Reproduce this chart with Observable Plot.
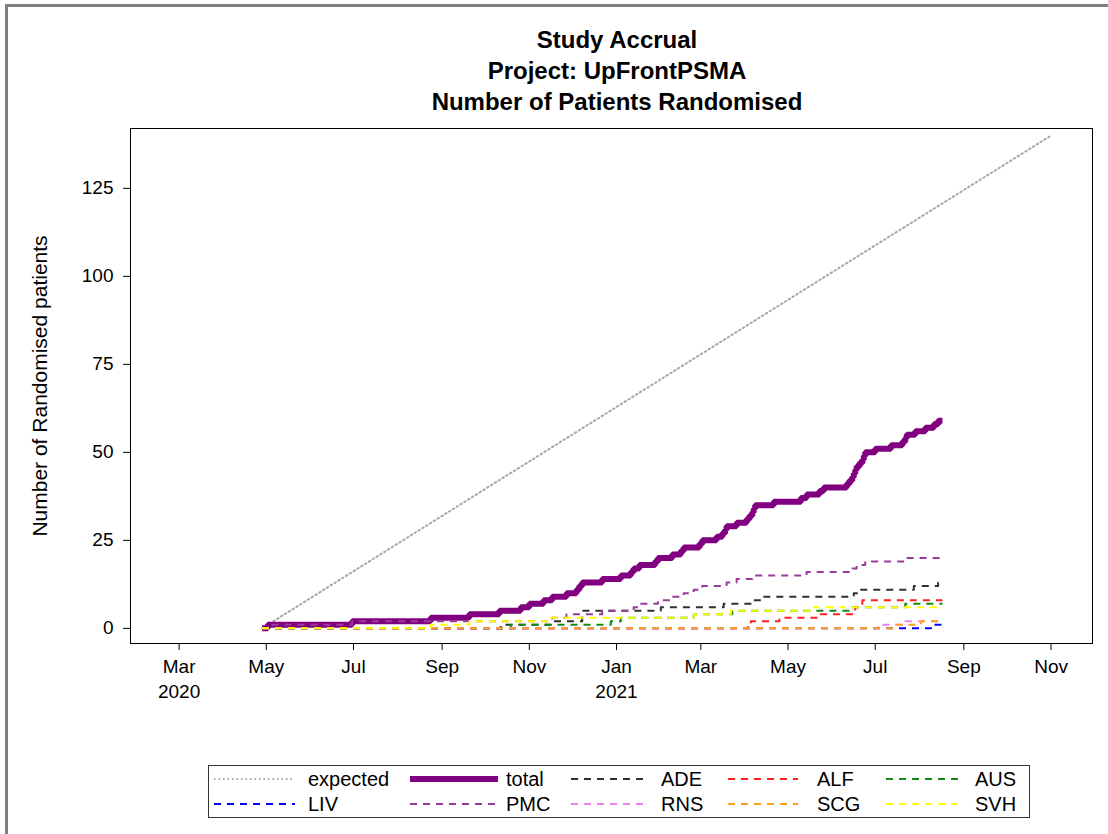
<!DOCTYPE html>
<html>
<head>
<meta charset="utf-8">
<script src="https://cdn.jsdelivr.net/npm/d3@7"></script>
<script src="https://cdn.jsdelivr.net/npm/@observablehq/plot@0.6"></script>
<style>
  html, body { margin: 0; padding: 0; background: #fff; }
  #page { position: relative; width: 1108px; height: 834px; overflow: hidden; font-family: "Liberation Sans", Arial, sans-serif; }
  #border { position: absolute; left: 5px; top: 4px; width: 1200px; height: 900px; border-top: 3px solid #808080; border-left: 3px solid #808080; }
  #titles { position: absolute; top: 24px; left: 136px; width: 962px; text-align: center; font-weight: bold; font-size: 24px; line-height: 31px; color: #000; }
  #chart { position: absolute; top: 115px; left: 0; }
  #legend { position: absolute; left: 208px; top: 765px; width: 820px; height: 51px; border: 1px solid #333; }
  .lg-label { position: absolute; font-size: 20px; line-height: 26px; white-space: nowrap; color: #000; }
</style>
</head>
<body>
<div id="page">
  <div id="border"></div>
  <div id="titles"></div>
  <div id="chart"></div>
  <div id="legend"></div>
</div>
<script>
// ---------------- data ----------------
const titleLines = ["Study Accrual", "Project: UpFrontPSMA", "Number of Patients Randomised"];
const yLabel = "Number of Randomised patients";

const startDate = "2020-04-28";
const endDate = "2021-08-17";

const expectedDates = ["2020-04-28", "2021-11-01"];
const expectedValues = [0, 140];

const xTicks = ["2020-03-01", "2020-05-01", "2020-07-01", "2020-09-01", "2020-11-01", "2021-01-01",
                "2021-03-01", "2021-05-01", "2021-07-01", "2021-09-01", "2021-11-01"];
const yTicks = [0, 25, 50, 75, 100, 125];

// randomisation dates (one entry per patient)
const totalDates = [
  "2020-05-02","2020-06-30","2020-08-24","2020-09-20","2020-10-11","2020-10-26","2020-11-01","2020-11-11",
  "2020-11-17","2020-11-27","2020-12-04","2020-12-06","2020-12-08","2020-12-22","2021-01-04","2021-01-11",
  "2021-01-13","2021-01-17","2021-01-28","2021-01-30","2021-02-09","2021-02-15","2021-02-17","2021-02-28",
  "2021-03-02","2021-03-12","2021-03-16","2021-03-18","2021-03-19","2021-03-26","2021-04-02","2021-04-04",
  "2021-04-06","2021-04-07","2021-04-08","2021-04-21","2021-05-10","2021-05-14","2021-05-23","2021-05-26",
  "2021-06-11","2021-06-13","2021-06-15","2021-06-16","2021-06-17","2021-06-18","2021-06-20","2021-06-22",
  "2021-06-23","2021-06-24","2021-07-01","2021-07-12","2021-07-20","2021-07-22","2021-07-23","2021-07-29",
  "2021-08-05","2021-08-11","2021-08-14"
];
const ADE = ["2020-10-12","2020-11-16","2020-12-08","2020-12-08","2020-12-08","2021-02-01","2021-03-17",
             "2021-04-06","2021-04-12","2021-06-16","2021-06-21","2021-07-28","2021-08-14"];
const ALF = ["2021-04-03","2021-04-05","2021-04-25","2021-05-23","2021-06-16","2021-06-17","2021-06-20","2021-06-22"];
const AUS = ["2020-10-19","2020-12-28","2021-01-04","2021-02-24","2021-03-23","2021-06-13","2021-07-22"];
const LIV = ["2021-08-09"];
const PMC = ["2020-05-02","2020-06-30","2020-11-17","2020-11-27","2020-12-22","2021-01-13","2021-01-17",
             "2021-01-30","2021-02-09","2021-02-17","2021-02-24","2021-03-02","2021-03-19","2021-03-26",
             "2021-04-06","2021-05-14","2021-06-15","2021-06-18","2021-06-24","2021-07-22"];
const RNS = ["2021-07-03","2021-07-22"];
const SCG = ["2021-07-15","2021-08-02"];
const SVH = ["2020-08-24","2020-09-20","2020-11-16","2021-02-24","2021-03-22","2021-05-16"];

const siteNames = ["ADE", "ALF", "AUS", "LIV", "PMC", "RNS", "SCG", "SVH"];
const siteDates = {ADE, ALF, AUS, LIV, PMC, RNS, SCG, SVH};
const legendOrder = ["expected", "total", "ADE", "ALF", "AUS", "LIV", "PMC", "RNS", "SCG", "SVH"];

// ---------------- styles ----------------
const styles = {
  expected: {stroke: "#a8a8a8", width: 2, dash: "1.5,3"},
  total:    {stroke: "#800080", width: 6, dash: null},
  ADE: {stroke: "#303030", width: 2, dash: "7,6"},
  ALF: {stroke: "#ff2020", width: 2, dash: "7,6"},
  AUS: {stroke: "#108a10", width: 2, dash: "7,6"},
  LIV: {stroke: "#0000ff", width: 2, dash: "7,6"},
  PMC: {stroke: "#9a3a9a", width: 2, dash: "7,6"},
  RNS: {stroke: "#ee82ee", width: 2, dash: "7,6"},
  SCG: {stroke: "#ffa020", width: 2, dash: "7,6"},
  SVH: {stroke: "#ffff00", width: 2, dash: "7,6"}
};

// ---------------- build step series ----------------
const parse = s => new Date(s + "T00:00:00Z");
function cumulative(name, dates) {
  const pts = [{series: name, date: parse(startDate), value: 0}];
  dates.forEach((d, i) => pts.push({series: name, date: parse(d), value: i + 1}));
  pts.push({series: name, date: parse(endDate), value: dates.length});
  return pts;
}
const expectedData = expectedDates.map((d, i) => ({date: parse(d), value: expectedValues[i]}));
const totalData = cumulative("total", totalDates);

document.getElementById("titles").innerHTML = titleLines.map(t => `<div>${t}</div>`).join("");

const fmtMonth = d3.utcFormat("%b");
const tickFmt = (d, i) => {
  const showYear = i === 0 || d.getUTCMonth() === 0;
  return fmtMonth(d) + (showYear ? "\n" + d.getUTCFullYear() : "");
};

const marks = [
  Plot.line(expectedData, {x: "date", y: "value", stroke: styles.expected.stroke,
    strokeWidth: styles.expected.width, strokeDasharray: styles.expected.dash}),
  Plot.line(totalData, {x: "date", y: "value", curve: "step-after", stroke: styles.total.stroke,
    strokeWidth: styles.total.width, strokeLinejoin: "miter", strokeLinecap: "butt"})
];
for (const name of siteNames) {
  const st = styles[name];
  marks.push(Plot.line(cumulative(name, siteDates[name]), {x: "date", y: "value", curve: "step-after",
    stroke: st.stroke, strokeWidth: st.width, strokeDasharray: st.dash, strokeLinecap: "butt"}));
}
marks.push(Plot.frame({stroke: "#000", strokeWidth: 1}));
marks.push(Plot.axisX(xTicks.map(parse), {tickSize: 7, tickPadding: 5, tickFormat: tickFmt, label: null, lineHeight: 1.3}));
marks.push(Plot.axisY(yTicks, {tickSize: 7, tickPadding: 10, label: yLabel, labelAnchor: "center", labelArrow: "none", labelOffset: 98}));

const chart = Plot.plot({
  width: 1108,
  height: 595,
  marginLeft: 130,
  marginRight: 16,
  marginTop: 13,
  marginBottom: 67,
  style: {fontFamily: "'Liberation Sans', Arial, sans-serif", fontSize: "19px", color: "#000", background: "transparent", overflow: "visible"},
  x: {type: "utc", domain: [parse("2020-01-27"), parse("2021-11-30")]},
  y: {domain: [-4.3, 142]},
  marks
});
document.getElementById("chart").appendChild(chart);
d3.select(chart).selectAll('[aria-label="y-axis label"] text').style("font-size", "21px");

// ---------------- legend ----------------
const legend = document.getElementById("legend");
const colSample = [[5, 86], [201, 289], [362, 437], [519, 589], [677, 753]];
const colLabel = [99, 297, 452, 608, 766];
legendOrder.forEach((name, i) => {
  const row = Math.floor(i / 5), col = i % 5;
  const st = styles[name];
  const top = row === 0 ? 0 : 25;
  const [x0, x1] = colSample[col];
  const svg = d3.select(legend).append("svg")
    .attr("width", x1 - x0).attr("height", 26)
    .style("position", "absolute").style("left", x0 + "px").style("top", top + "px");
  svg.append("line").attr("x1", 0).attr("x2", x1 - x0).attr("y1", 13).attr("y2", 13)
    .attr("stroke", st.stroke).attr("stroke-width", name === "total" ? 6 : 2)
    .attr("stroke-dasharray", st.dash);
  d3.select(legend).append("div").attr("class", "lg-label")
    .style("left", colLabel[col] + "px").style("top", top + "px").text(name);
});
</script>
</body>
</html>
